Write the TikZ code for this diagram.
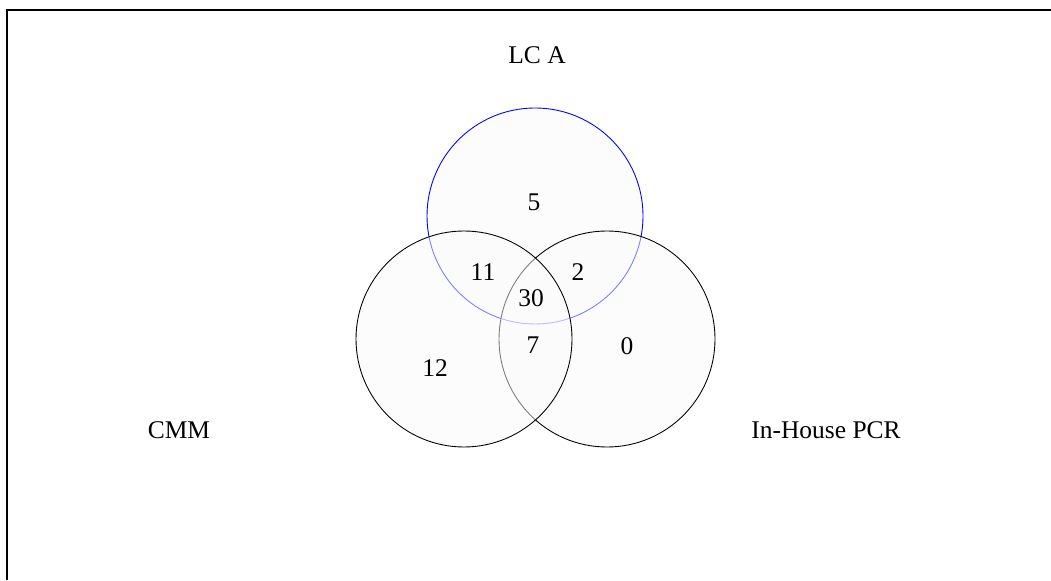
\documentclass[tikz,border=0pt]{standalone}
\usepackage{fontspec}
\setmainfont{Liberation Serif}
\usepackage{tikz}
\usetikzlibrary{positioning}
\tikzset{
  setc/.style={circle,minimum size=4.32cm,inner sep=0pt,fill=black!2,fill opacity=0.5,
    draw opacity=1,line width=0.5pt},
  cnt/.style={font=\fontsize{14.5}{16}\selectfont},
  setname/.style={font=\fontsize{14.5}{16}\selectfont},
}
\begin{document}
\begin{tikzpicture}
  \useasboundingbox (0,0) rectangle (21.02,11.6);
  % frame
  \draw[line width=1.4pt] (0.14,0) -- (0.14,11.4) -- (21.02,11.4);
  % sets
  \node[setc,draw=blue] (lca) at (10.70,7.28) {};
  \node[setc,draw=black] (pcr) at (12.14,4.82) {};
  \node[setc,draw=black] (cmm) at (9.28,4.82) {};
  % names
  \node[setname] (lcaname) at (10.74,10.5) {LC A};
  \node[setname] (cmmname) at (3.58,3.0) {CMM};
  \node[setname] (pcrname) at (16.52,3.0) {In-House PCR};
  % counts
  \node[cnt] (onlylca) at (10.68,7.56) {5};
  \node[cnt] (lcacmm) at (9.66,6.16) {11};
  \node[cnt] (lcapcr) at (11.56,6.16) {2};
  \node[cnt] (all) at (10.62,5.64) {30};
  \node[cnt] (cmmpcr) at (10.66,4.70) {7};
  \node[cnt] (onlycmm) at (8.70,4.24) {12};
  \node[cnt] (onlypcr) at (12.54,4.68) {0};
\end{tikzpicture}
\end{document}
